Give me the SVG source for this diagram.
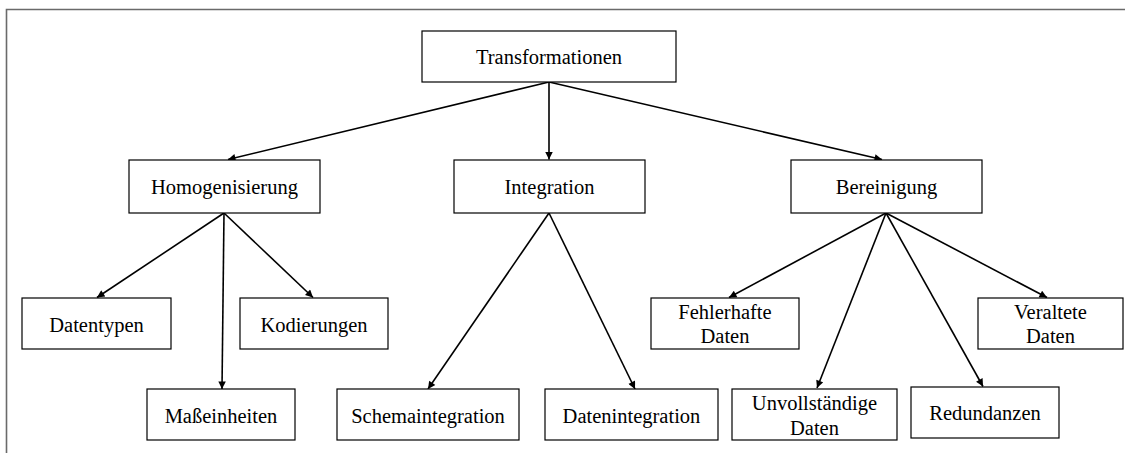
<svg xmlns="http://www.w3.org/2000/svg" width="1125" height="453" viewBox="0 0 1125 453">
  <style>
    .box { fill: #ffffff; stroke: #000000; stroke-width: 1.2; }
    .lbl { font-size: 20.5px; fill: #000000; text-anchor: middle; }
    .edge { stroke: #000000; stroke-width: 1.6; fill: none; marker-end: url(#arrow); }
    .frame { stroke: #6a6a6a; stroke-width: 1.6; fill: none; }
  </style>
  <defs>
    <marker id="arrow" viewBox="0 0 10 10" refX="10" refY="5" markerWidth="9" markerHeight="7.5" markerUnits="userSpaceOnUse" orient="auto">
      <path d="M0,0 L10,5 L0,10 z" fill="#000000"/>
    </marker>
  </defs>
  <rect width="1125" height="453" fill="#ffffff"/>
  <!-- outer frame (top and left edges) -->
  <path class="frame" d="M6.5,453 V9.5 H1125"/>

  <g id="connectors">
    <line class="edge" x1="549" y1="82" x2="228" y2="159.5"/>
    <line class="edge" x1="549" y1="82" x2="549" y2="159.5"/>
    <line class="edge" x1="549" y1="82" x2="882" y2="159.5"/>
    <line class="edge" x1="224" y1="213" x2="97" y2="297.5"/>
    <line class="edge" x1="224" y1="213" x2="222" y2="389"/>
    <line class="edge" x1="224" y1="213" x2="313" y2="297.5"/>
    <line class="edge" x1="549" y1="213" x2="428" y2="389"/>
    <line class="edge" x1="549" y1="213" x2="635" y2="389"/>
    <line class="edge" x1="886" y1="213" x2="729" y2="297.5"/>
    <line class="edge" x1="886" y1="213" x2="817" y2="388"/>
    <line class="edge" x1="886" y1="213" x2="983" y2="386.5"/>
    <line class="edge" x1="886" y1="213" x2="1047" y2="297.5"/>
  </g>

  <g id="nodes" font-family="Liberation Serif, Times New Roman, serif">
  <g id="n-transformationen">
    <rect class="box" x="422" y="31" width="254" height="51"/>
    <text class="lbl" x="549" y="64">Transformationen</text>
  </g>
  <g id="n-homogenisierung">
    <rect class="box" x="129" y="160" width="191" height="53"/>
    <text class="lbl" x="224.5" y="194">Homogenisierung</text>
  </g>
  <g id="n-integration">
    <rect class="box" x="454" y="160" width="191" height="53"/>
    <text class="lbl" x="549.5" y="194">Integration</text>
  </g>
  <g id="n-bereinigung">
    <rect class="box" x="791" y="160" width="191" height="53"/>
    <text class="lbl" x="886.5" y="194">Bereinigung</text>
  </g>
  <g id="n-datentypen">
    <rect class="box" x="22" y="298" width="149" height="51"/>
    <text class="lbl" x="96.5" y="331.5">Datentypen</text>
  </g>
  <g id="n-kodierungen">
    <rect class="box" x="240" y="298" width="148" height="51"/>
    <text class="lbl" x="314" y="331.5">Kodierungen</text>
  </g>
  <g id="n-masseinheiten">
    <rect class="box" x="147" y="389" width="148" height="51"/>
    <text class="lbl" x="221" y="422.5">Maßeinheiten</text>
  </g>
  <g id="n-schemaintegration">
    <rect class="box" x="337" y="389" width="182" height="51"/>
    <text class="lbl" x="428" y="422.5">Schemaintegration</text>
  </g>
  <g id="n-datenintegration">
    <rect class="box" x="545" y="389" width="173" height="51"/>
    <text class="lbl" x="631.5" y="422.5">Datenintegration</text>
  </g>
  <g id="n-fehlerhafte">
    <rect class="box" x="651" y="298" width="148" height="51"/>
    <text class="lbl" x="725" y="319">Fehlerhafte</text>
    <text class="lbl" x="725" y="343">Daten</text>
  </g>
  <g id="n-veraltete">
    <rect class="box" x="978" y="298" width="145" height="51"/>
    <text class="lbl" x="1050.5" y="319">Veraltete</text>
    <text class="lbl" x="1050.5" y="343">Daten</text>
  </g>
  <g id="n-unvollstaendige">
    <rect class="box" x="732" y="389" width="165" height="51"/>
    <text class="lbl" x="814.5" y="410">Unvollständige</text>
    <text class="lbl" x="814.5" y="435">Daten</text>
  </g>
  <g id="n-redundanzen">
    <rect class="box" x="911" y="387" width="148" height="51"/>
    <text class="lbl" x="985" y="420">Redundanzen</text>
  </g>
  </g>
</svg>
